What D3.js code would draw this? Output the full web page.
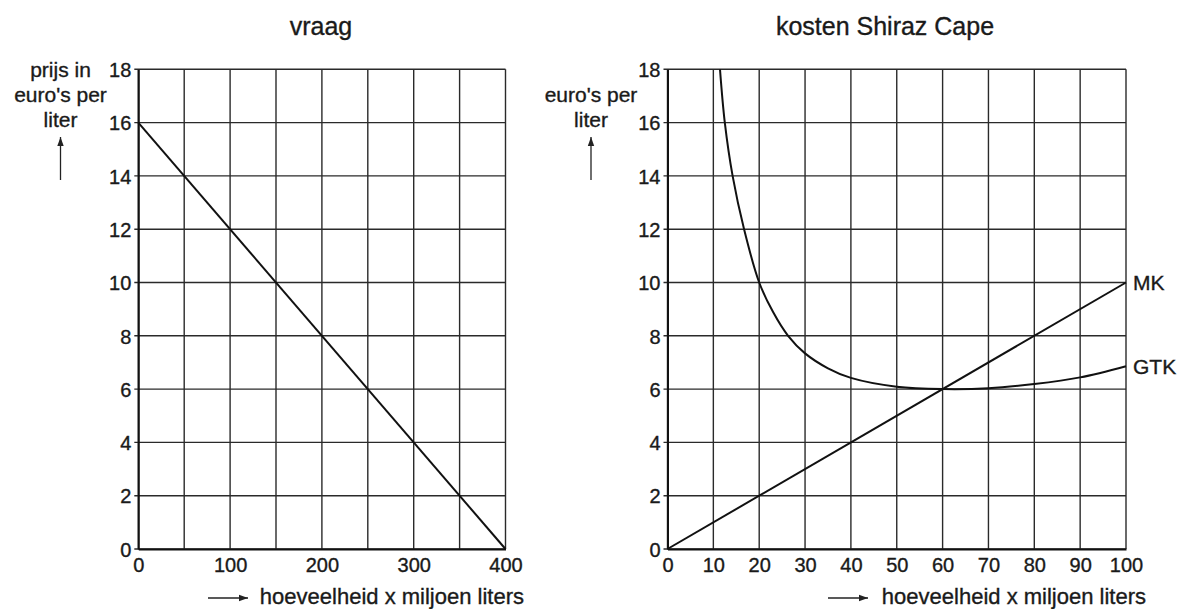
<!DOCTYPE html>
<html>
<head>
<meta charset="utf-8">
<script src="https://cdn.jsdelivr.net/npm/d3@7"></script>
<style>
  body { margin: 0; background: #fff; }
  svg { display: block; font-family: "Liberation Sans", Arial, sans-serif; }
  text { fill: #1a1a1a; stroke: #1a1a1a; stroke-width: 0.35; }
  .tick text { font-size: 20px; }
  .grid line { stroke: #2a2a2a; stroke-width: 1.4; }
</style>
</head>
<body>
<svg id="chart" width="1182" height="609"></svg>
<script>
// vraag (demand) line
const vraagQ = [0, 400]
const vraagP = [16, 0]

// kosten Shiraz Cape
const mkQ = [0, 100]
const mkP = [0, 10]
const gtkQ = [11.45, 12.5, 14.2, 16.7, 20, 23, 26.3, 30, 35, 40, 50, 60, 70, 80, 90, 100]
const gtkP = [18, 16, 14, 12, 10, 8.9, 8, 7.34, 6.78, 6.42, 6.09, 6.0, 6.03, 6.19, 6.44, 6.86]

// ticks
const yTicks = [0, 2, 4, 6, 8, 10, 12, 14, 16, 18]
const leftGridX = [0, 50, 100, 150, 200, 250, 300, 350, 400]
const leftTickX = [0, 100, 200, 300, 400]
const rightTickX = [0, 10, 20, 30, 40, 50, 60, 70, 80, 90, 100]

const svg = d3.select('#chart')

function panel(o) {
  const x = d3.scaleLinear().domain([0, o.xmax]).range([o.left, o.right])
  const y = d3.scaleLinear().domain([0, 18]).range([549, 69.3])
  const g = svg.append('g')

  // grid
  const grid = g.append('g').attr('class', 'grid')
  grid.selectAll('.gx').data(o.gridX).enter().append('line')
    .attr('x1', d => x(d)).attr('x2', d => x(d))
    .attr('y1', y(0)).attr('y2', y(18))
  grid.selectAll('.gy').data(yTicks).enter().append('line')
    .attr('x1', x(0) - 4).attr('x2', x(o.xmax))
    .attr('y1', d => y(d)).attr('y2', d => y(d))

  // axes
  const ya = g.append('g')
    .attr('transform', 'translate(' + x(0) + ',0)')
    .call(d3.axisLeft(y).tickValues(yTicks).tickSize(0).tickPadding(7))
  ya.select('.domain').attr('stroke', '#111').attr('stroke-width', 2)
  ya.selectAll('.tick text').attr('dy', '0.36em')

  const xa = g.append('g')
    .attr('transform', 'translate(0,' + y(0) + ')')
    .call(d3.axisBottom(x).tickValues(o.tickX).tickSize(0).tickPadding(9))
  xa.select('.domain').attr('stroke', '#111').attr('stroke-width', 2.2)

  // titles
  g.append('text').attr('x', o.titleX).attr('y', 35)
    .attr('text-anchor', 'middle').attr('font-size', 25)
    .text(o.title)

  const yl = g.append('text').attr('text-anchor', 'middle').attr('font-size', 21)
  o.yLabel.forEach((t, i) => {
    yl.append('tspan').attr('x', o.yLabelX).attr('y', o.yLabelY + i * 25).text(t)
  })
  arrow(g, o.yLabelX, 180, o.yLabelX, 137)

  g.append('text').attr('x', o.xTitleEnd).attr('y', 604)
    .attr('text-anchor', 'end').attr('font-size', 22)
    .text('hoeveelheid x miljoen liters')
  arrow(g, o.xArrow[0], 598, o.xArrow[1], 598)

  return { g, x, y }
}

function arrow(g, x1, y1, x2, y2) {
  g.append('line').attr('x1', x1).attr('y1', y1).attr('x2', x2).attr('y2', y2)
    .attr('stroke', '#222').attr('stroke-width', 1.3)
  const a = Math.atan2(y2 - y1, x2 - x1)
  const L = 9, W = 3.2
  const p = [
    [x2, y2],
    [x2 - L * Math.cos(a) + W * Math.sin(a), y2 - L * Math.sin(a) - W * Math.cos(a)],
    [x2 - L * Math.cos(a) - W * Math.sin(a), y2 - L * Math.sin(a) + W * Math.cos(a)]
  ]
  g.append('path').attr('d', 'M' + p.join('L') + 'Z').attr('fill', '#222')
}

// left: vraag
const L = panel({
  xmax: 400, left: 138.3, right: 505.5, gridX: leftGridX, tickX: leftTickX,
  title: 'vraag', titleX: 321,
  yLabel: ['prijs in', "euro's per", 'liter'], yLabelX: 60.5, yLabelY: 77,
  xTitleEnd: 524, xArrow: [208, 248]
})
const lineL = d3.line().x(d => L.x(d[0])).y(d => L.y(d[1]))
L.g.append('path').datum(d3.zip(vraagQ, vraagP))
  .attr('d', lineL).attr('fill', 'none').attr('stroke', '#111').attr('stroke-width', 2)

// right: kosten
const R = panel({
  xmax: 100, left: 667.5, right: 1126, gridX: rightTickX, tickX: rightTickX,
  title: 'kosten Shiraz Cape', titleX: 885,
  yLabel: ["euro's per", 'liter'], yLabelX: 591, yLabelY: 102,
  xTitleEnd: 1146, xArrow: [828, 868]
})
const lineR = d3.line().x(d => R.x(d[0])).y(d => R.y(d[1]))
R.g.append('path').datum(d3.zip(mkQ, mkP))
  .attr('d', lineR).attr('fill', 'none').attr('stroke', '#111').attr('stroke-width', 2)
R.g.append('path').datum(d3.zip(gtkQ, gtkP))
  .attr('d', lineR.curve(d3.curveCatmullRom.alpha(0.5))).attr('fill', 'none').attr('stroke', '#111').attr('stroke-width', 2)

R.g.append('text').attr('x', R.x(100) + 7).attr('y', R.y(mkP[1])).attr('dy', '0.36em')
  .attr('font-size', 21).text('MK')
R.g.append('text').attr('x', R.x(100) + 7).attr('y', R.y(gtkP[gtkP.length - 1])).attr('dy', '0.36em')
  .attr('font-size', 21).text('GTK')
</script>
</body>
</html>
